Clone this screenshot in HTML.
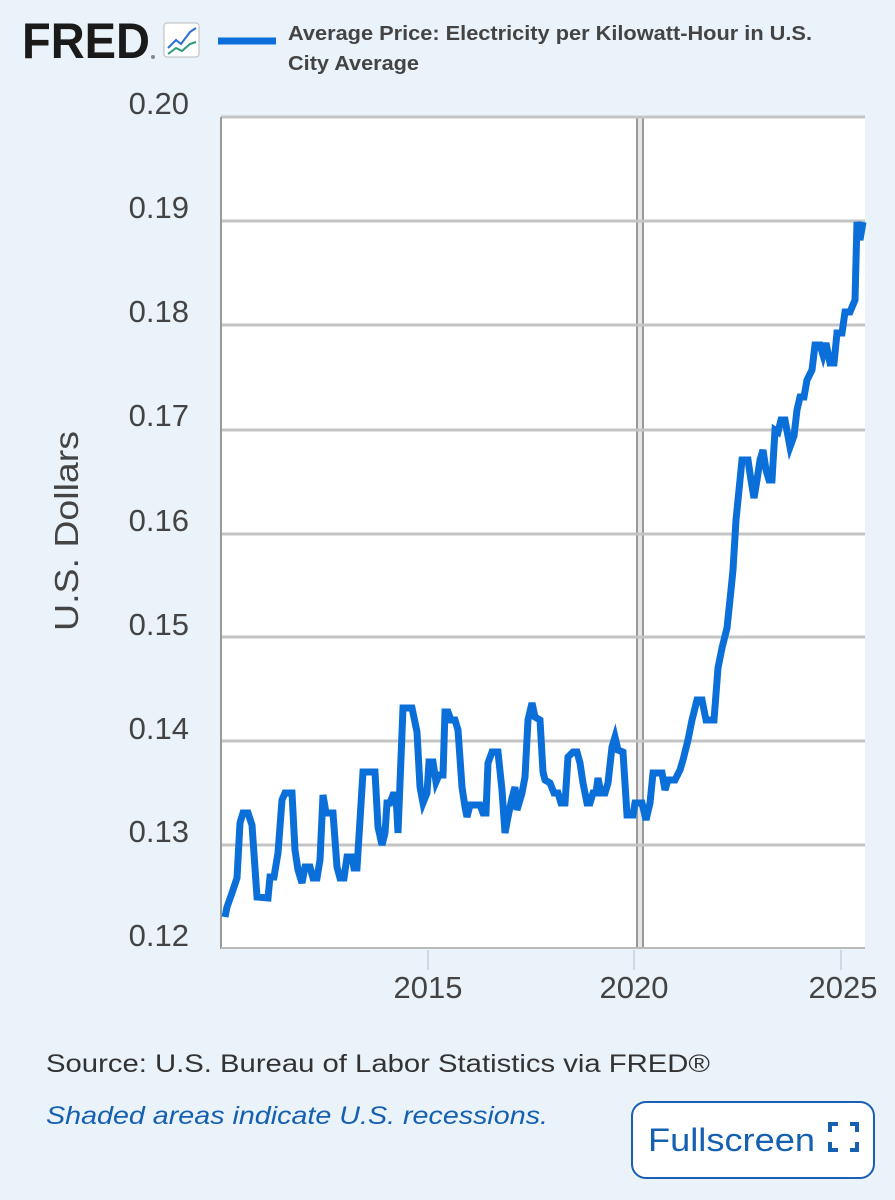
<!DOCTYPE html>
<html><head><meta charset="utf-8"><style>
html,body{margin:0;padding:0;background:#eaf2fa;}
svg{display:block;}
</style></head><body>
<svg width="895" height="1200" viewBox="0 0 895 1200" xmlns="http://www.w3.org/2000/svg" font-family="Liberation Sans, sans-serif">
<rect width="895" height="1200" fill="#eaf2fa"/>
<!-- logo -->
<text x="22" y="58" font-size="50" font-weight="bold" fill="#1a1a1a" textLength="128" lengthAdjust="spacingAndGlyphs">FRED</text>
<circle cx="153" cy="57" r="2" fill="#888"/>
<rect x="164" y="23" width="35" height="34" rx="3" fill="#fff" stroke="#bbb"/>
<polyline points="168,48 176,40 181,44 190,32 196,28" fill="none" stroke="#2a6fd1" stroke-width="2"/>
<polyline points="168,54 176,48 182,51 190,44 196,42" fill="none" stroke="#2a9a7a" stroke-width="2"/>
<!-- legend -->
<line x1="218" y1="41" x2="276" y2="41" stroke="#0b6fd9" stroke-width="7"/>
<text x="288" y="40" font-size="20" font-weight="bold" fill="#444" textLength="524" lengthAdjust="spacingAndGlyphs">Average Price: Electricity per Kilowatt-Hour in U.S.</text>
<text x="288" y="70" font-size="20" font-weight="bold" fill="#444" textLength="131" lengthAdjust="spacingAndGlyphs">City Average</text>
<!-- plot -->
<rect x="221" y="117" width="644" height="831" fill="#fff"/>
<rect x="636" y="117" width="8" height="831" fill="#e4e6ea"/>
<line x1="637" y1="117" x2="637" y2="948" stroke="#999" stroke-width="2"/>
<line x1="643" y1="117" x2="643" y2="948" stroke="#999" stroke-width="2"/>
<g stroke="#c4c4c4" stroke-width="3">
<line x1="221" y1="117" x2="865" y2="117"/>
<line x1="221" y1="221" x2="865" y2="221"/>
<line x1="221" y1="325" x2="865" y2="325"/>
<line x1="221" y1="430" x2="865" y2="430"/>
<line x1="221" y1="534" x2="865" y2="534"/>
<line x1="221" y1="637" x2="865" y2="637"/>
<line x1="221" y1="741" x2="865" y2="741"/>
<line x1="221" y1="845" x2="865" y2="845"/>
</g>
<line x1="221" y1="117" x2="221" y2="949" stroke="#999" stroke-width="2"/>
<line x1="221" y1="948" x2="865" y2="948" stroke="#bbb" stroke-width="2"/>
<g stroke="#ccd" stroke-width="1.5">
<line x1="428" y1="950" x2="428" y2="970"/>
<line x1="634" y1="950" x2="634" y2="970"/>
<line x1="841" y1="950" x2="841" y2="970"/>
</g>
<g font-size="31" fill="#444" text-anchor="end">
<text x="189" y="114">0.20</text>
<text x="189" y="218">0.19</text>
<text x="189" y="322">0.18</text>
<text x="189" y="426">0.17</text>
<text x="189" y="531">0.16</text>
<text x="189" y="635">0.15</text>
<text x="189" y="739">0.14</text>
<text x="189" y="842">0.13</text>
<text x="189" y="946">0.12</text>
</g>
<g font-size="31" fill="#444" text-anchor="middle">
<text x="428" y="998">2015</text>
<text x="634" y="998">2020</text>
<text x="843" y="998">2025</text>
</g>
<text transform="translate(78,531) rotate(-90)" font-size="33" fill="#444" text-anchor="middle" textLength="200" lengthAdjust="spacingAndGlyphs">U.S. Dollars</text>
<polyline fill="none" stroke="#0b6fd9" stroke-width="7" stroke-linejoin="miter" points="225,917 227,907 232,893 237,878 240,823 243,813 248,813 252,825 257,897 268,898 270,877 274,877 278,853 282,800 285,793 292,793 295,850 298,870 302,883 305,867 310,867 313,878 317,878 320,860 323,795 326,813 333,813 337,867 340,878 344,878 347,857 352,857 354,868 357,868 363,772 375,772 378,827 382,845 385,833 387,803 390,803 393,795 396,795 398,833 403,708 412,708 417,732 420,787 423,803 427,793 429,762 433,762 436,782 439,775 443,775 445,712 448,712 451,720 455,720 458,730 462,787 465,807 467,817 470,805 480,805 483,813 486,813 488,763 492,752 498,752 502,790 505,833 508,817 512,798 515,787 517,810 522,793 525,777 528,720 532,703 535,717 540,720 543,772 545,780 550,783 554,793 558,793 561,803 565,803 568,757 573,752 577,752 580,763 583,783 587,803 590,803 593,793 596,793 598,778 601,793 605,793 608,783 612,747 615,737 618,750 623,752 627,815 633,815 635,803 642,803 646,820 650,803 653,773 660,773 662,773 665,790 668,780 675,780 680,770 683,760 688,740 692,720 697,700 702,700 706,720 714,720 718,668 722,648 727,628 731,590 733,570 736,520 740,480 742,460 748,460 751,480 754,498 757,480 760,460 763,450 766,470 769,480 772,480 775,430 778,432 781,420 785,420 790,447 794,436 797,410 800,397 804,397 807,380 812,370 815,345 820,345 823,355 826,343 830,363 834,363 837,333 842,333 845,312 850,312 855,300 857,222 860,240 863,222"/>
<text x="46" y="1072" font-size="25" fill="#333" textLength="664" lengthAdjust="spacingAndGlyphs">Source: U.S. Bureau of Labor Statistics via FRED®</text>
<text x="46" y="1124" font-size="25" font-style="italic" fill="#1560b0" textLength="502" lengthAdjust="spacingAndGlyphs">Shaded areas indicate U.S. recessions.</text>
<rect x="632" y="1102" width="242" height="76" rx="14" fill="#fff" stroke="#1a5fb4" stroke-width="2"/>
<text x="648" y="1151" font-size="32" fill="#1560b0" textLength="167" lengthAdjust="spacingAndGlyphs">Fullscreen</text>
<g fill="none" stroke="#1560b0" stroke-width="4">
<polyline points="830,1132 830,1124 838,1124"/>
<polyline points="850,1124 857,1124 857,1132"/>
<polyline points="830,1142 830,1150 838,1150"/>
<polyline points="850,1150 857,1150 857,1142"/>
</g>
</svg>
</body></html>
